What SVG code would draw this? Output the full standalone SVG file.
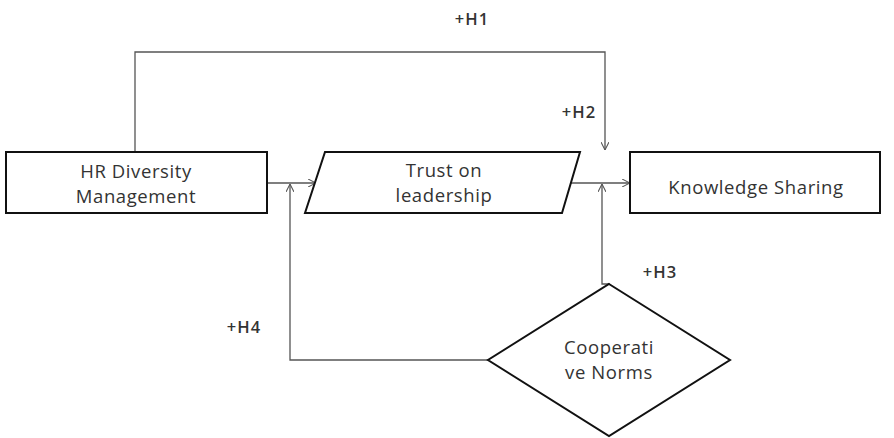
<svg xmlns="http://www.w3.org/2000/svg" width="894" height="438" viewBox="0 0 894 438">
<defs>
<marker id="arr" viewBox="0 0 10 10" refX="10" refY="5" markerWidth="8" markerHeight="8" orient="auto" markerUnits="userSpaceOnUse">
<path d="M0,0 L10,5 L0,10" fill="none" stroke="#555" stroke-width="1.3"/>
</marker>
<style>
.shape{fill:#fff;stroke:#111;stroke-width:2}
.conn{fill:none;stroke:#555;stroke-width:1.3}
text{font-family:"Open Sans","Liberation Sans",sans-serif;font-size:18.5px;fill:#333;text-anchor:middle;letter-spacing:0.6px}
.lbl{font-size:16.5px;letter-spacing:1px;font-weight:600}
</style>
</defs>
<g id="connectors">
<path class="conn" d="M135,151 V52 H605 V150" marker-end="url(#arr)"/>
<path class="conn" d="M267,183 H316" marker-end="url(#arr)"/>
<path class="conn" d="M571,183 H630" marker-end="url(#arr)"/>
<path class="conn" d="M609,283 V284 H602 V184" marker-end="url(#arr)"/>
<path class="conn" d="M488,360 H290 V184" marker-end="url(#arr)"/>
</g>
<g id="hr">
<rect class="shape" x="6" y="152" width="261" height="61"/>
<text x="136" y="178">HR Diversity</text>
<text x="136" y="203">Management</text>
</g>
<g id="trust">
<polygon class="shape" points="325,152 580,152 562,213 305,213"/>
<text x="444" y="177">Trust on</text>
<text x="444" y="202">leadership</text>
</g>
<g id="knowledge">
<rect class="shape" x="630" y="152" width="250" height="61"/>
<text x="756" y="194">Knowledge Sharing</text>
</g>
<g id="coop">
<polygon class="shape" points="609,284 730,360 609,436 488,360"/>
<text x="609" y="354">Cooperati</text>
<text x="609" y="379">ve Norms</text>
</g>
<g id="labels">
<text class="lbl" x="472" y="25">+H1</text>
<text class="lbl" x="579" y="118">+H2</text>
<text class="lbl" x="660" y="278">+H3</text>
<text class="lbl" x="244" y="333">+H4</text>
</g>
</svg>
